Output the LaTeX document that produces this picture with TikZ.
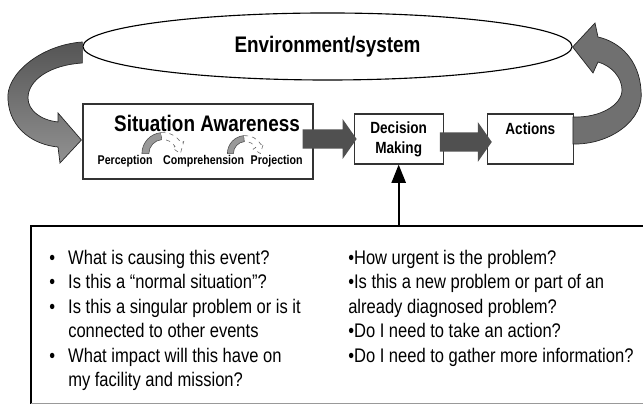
\documentclass[tikz,border=0pt]{standalone}
\usepackage{fontspec}
\setmainfont{Liberation Sans}[FakeStretch=0.84]
\usepackage{tikz}
\usetikzlibrary{arrows.meta, positioning, shapes.geometric, calc}
\definecolor{blockgray}{RGB}{80, 80, 80}
\definecolor{loopdark}{RGB}{85, 85, 85}
\definecolor{looplight}{RGB}{145, 145, 145}
\definecolor{loopmid}{RGB}{112, 112, 112}

% straight block arrow, tail x from #1, tip at #2
\newcommand{\blockarrow}[2]{%
  \fill[blockgray] let \p1=#1, \p2=#2 in
    (\x1,\y2+0.24cm) -- (\x2-0.35cm,\y2+0.24cm) -- (\x2-0.35cm,\y2+0.5cm)
    -- (\x2,\y2) -- (\x2-0.35cm,\y2-0.5cm) -- (\x2-0.35cm,\y2-0.24cm)
    -- (\x1,\y2-0.24cm) -- cycle;}

% small curved arrow between the stages, centre #1, radii #2 and #3
\newcommand{\stagearrow}[3]{%
  \filldraw[fill=black!40, draw=black!70, line width=0.4pt]
    ($(#1)+(180:#2)$) arc[start angle=180, end angle=95, radius=#2]
    -- ($(#1)+(95:#3)$) arc[start angle=95, end angle=180, radius=#3] -- cycle;
  \filldraw[fill=white, draw=black!60, dashed, line width=0.4pt]
    ($(#1)+(95:#2)$) arc[start angle=95, end angle=30, radius=#2]
    -- ($(#1)+(30:{#2+3})$) -- ($(#1)+(0:{(#2+#3)/2})$) -- ($(#1)+(30:{#3-3})$)
    -- ($(#1)+(30:#3)$) arc[start angle=30, end angle=95, radius=#3] -- cycle;}

\begin{document}
\begin{tikzpicture}[
      x=0.025cm, y=0.025cm,
      box/.style={rectangle, draw=black!80, line width=0.8pt, fill=white, align=center, font=\fontsize{11.5}{14.2}\selectfont\bfseries},
      title/.style={font=\fontsize{16}{19}\selectfont\bfseries},
      stage/.style={font=\fontsize{9}{11}\selectfont\bfseries, inner sep=0pt},
      question/.style={font=\fontsize{14}{17.4}\selectfont, inner sep=0pt, anchor=base west},
      loop/.style={draw=black!85, line width=0.5pt},
      uparrow/.style={-{Triangle[length=13pt, width=10pt]}, line width=1.5pt}
    ]
    \useasboundingbox (0,0) rectangle (643,405);

    % Environment and the main chain
    \node[ellipse, draw, line width=0.8pt, fill=white, minimum width=12.225cm, minimum height=1.675cm, title] (env) at (327.5,358.5) {Environment/system};
    \node[box, minimum width=5.75cm, minimum height=1.875cm] (sa) at (198,263.5) {};
    \node[box, minimum width=2.225cm, minimum height=1.25cm, right=1cm of sa, yshift=0.0625cm] (dm) {Decision\\Making};
    \node[box, minimum width=2.15cm, minimum height=1.25cm, right=1.075cm of dm] (actions) {Actions\\\mbox{}};

    % Stages of situation awareness
    \node[stage, anchor=base west] (perc) at ($(sa.south west)+(15,15)$) {Perception};
    \node[stage, base right=0.25cm of perc] (comp) {Comprehension};
    \node[stage, base right=0.15cm of comp] (proj) {Projection};
    \coordinate (turn1) at ($(perc.base east)+(10,11)$);
    \coordinate (turn2) at ($(comp.base east)+(1,11)$);
    \stagearrow{turn1}{21}{14}
    \stagearrow{turn2}{18}{12}
    \node[title, anchor=base] (satitle) at ($(sa.north)+(9,-28)$) {Situation Awareness};

    \blockarrow{($(sa.east)+(-11,0)$)}{($(dm.west)+(3,0)$)}
    \blockarrow{($(dm.east)+(-4,0)$)}{($(actions.west)+(5,-3)$)}

    % Feedback loop
    \path[loop, top color=loopdark, bottom color=looplight]
      ($(env.west)+(0,4.5)$) .. controls (40,360) and (5,330) .. (8,305)
      .. controls (10,275) and (35,260) .. (58,258) -- (60,242)
      -- ($(sa.west)+(-1,1.5)$) -- (58,292) -- (58,283)
      .. controls (40,285) and (28,295) .. (28,307)
      .. controls (28,325) and (50,340) .. ($(env.west)+(0,-16.5)$) -- cycle;
    \path[loop, fill=loopmid]
      ($(actions.east)+(-1,-5)$) .. controls (610,260) and (645,285) .. (641,315)
      .. controls (639,345) and (620,363) .. (598,368) -- (595,382)
      -- ($(env.east)+(0,-0.5)$) -- (593,332) -- (598,343)
      .. controls (612,339) and (622,327) .. (622,315)
      .. controls (622,300) and (600,287) .. ($(actions.east)+(-1,22)$) -- cycle;

    % Questions
    \node[anchor=north west, inner sep=0pt, minimum width=16cm, minimum height=4.425cm] (questions) at (31,179) {};
    \draw[line width=1.6pt] (questions.south west) -- (questions.north west) -- (questions.north east);
    \draw[black!40, line width=0.8pt] (questions.south west) -- (questions.south east);
    \draw[uparrow] (questions.north -| dm.south) -- (dm.south);

    \node[question] (leftq) at (49,140.5) {\begin{tabular}[t]{@{}l@{}}
      \makebox[13.5pt][l]{\textbullet}What is causing this event?\\
      \makebox[13.5pt][l]{\textbullet}Is this a “normal situation”?\\
      \makebox[13.5pt][l]{\textbullet}Is this a singular problem or is it\\
      \hspace*{13.5pt}connected to other events\\
      \makebox[13.5pt][l]{\textbullet}What impact will this have on\\
      \hspace*{13.5pt}my facility and mission?
    \end{tabular}};
    \node[question] (rightq) at (348,140.5) {\begin{tabular}[t]{@{}l@{}}
      \textbullet How urgent is the problem?\\
      \textbullet Is this a new problem or part of an\\
      already diagnosed problem?\\
      \textbullet Do I need to take an action?\\
      \textbullet Do I need to gather more information?
    \end{tabular}};
\end{tikzpicture}
\end{document}
